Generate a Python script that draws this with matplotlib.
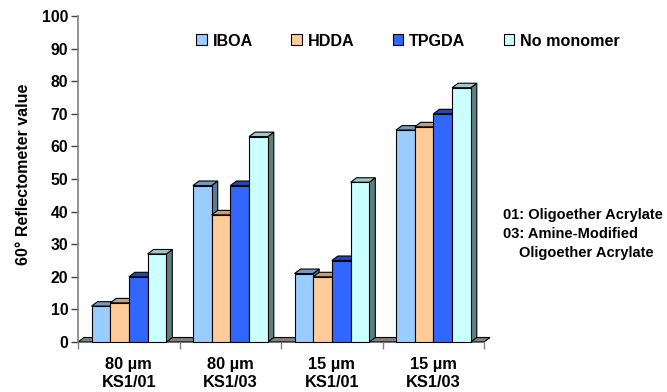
import matplotlib
matplotlib.use('Agg')
import matplotlib.pyplot as plt
from matplotlib.patches import Polygon, Patch

categories = ['80 µm\nKS1/01', '80 µm\nKS1/03', '15 µm\nKS1/01', '15 µm\nKS1/03']
series_names = ['IBOA', 'HDDA', 'TPGDA', 'No monomer']
ibo = [11, 48, 21, 65]
hdda = [12, 39, 20, 66]
tpgda = [20, 48, 25, 70]
nomono = [27, 63, 49, 78]
yticks = list(range(0, 101, 10))
note_lines = ['01: Oligoether Acrylate', '03: Amine-Modified', 'Oligoether Acrylate']

series = [ibo, hdda, tpgda, nomono]
front_colors = ['#99CCFF', '#FFCC99', '#3366FF', '#CCFFFF']
top_colors = ['#6E9ACC', '#C99E76', '#2347B8', '#9CC9C9']
side_colors = ['#5A7C99', '#997A5C', '#1F3D99', '#5F7F7F']

plt.rcParams['font.family'] = ['Liberation Sans', 'DejaVu Sans']
plt.rcParams['font.weight'] = 'bold'

W, H = 667, 392
fig = plt.figure(figsize=(W / 100, H / 100), dpi=100)
L, B, R, T = 78, 342, 484, 16
ax = fig.add_axes([L / W, (H - B) / H, (R - L) / W, (B - T) / H])
ax.set_xlim(0, 4)
ax.set_ylim(0, 100)
px_x = 4 / (R - L)
px_y = 100 / (B - T)
dx = 6 * px_x
dy = 4.5 * px_y
bw = 18.7 * px_x
start = 13.5 * px_x

# floor
ax.add_patch(Polygon([(0, 0), (4, 0), (4 + dx, dy), (dx, dy)], closed=True,
                     facecolor='#808080', edgecolor='black', lw=0.8,
                     clip_on=False, zorder=1))

z = 2
for i in range(len(categories)):
    for j, vals in enumerate(series):
        h = vals[i]
        x0 = i + start + j * bw
        side = [(x0 + bw, 0), (x0 + bw + dx, dy), (x0 + bw + dx, h + dy), (x0 + bw, h)]
        top = [(x0, h), (x0 + bw, h), (x0 + bw + dx, h + dy), (x0 + dx, h + dy)]
        front = [(x0, 0), (x0 + bw, 0), (x0 + bw, h), (x0, h)]
        ax.add_patch(Polygon(side, closed=True, facecolor=side_colors[j],
                             edgecolor='black', lw=0.8, clip_on=False, zorder=z))
        ax.add_patch(Polygon(top, closed=True, facecolor=top_colors[j],
                             edgecolor='black', lw=0.8, clip_on=False, zorder=z))
        ax.add_patch(Polygon(front, closed=True, facecolor=front_colors[j],
                             edgecolor='black', lw=0.8, clip_on=False, zorder=z))
        z += 1

for s in ['top', 'right', 'bottom']:
    ax.spines[s].set_visible(False)
ax.spines['left'].set_color('#808080')
ax.spines['left'].set_linewidth(1.2)

ax.set_yticks(yticks)
ax.set_yticklabels([str(v) for v in yticks], fontsize=11.3, fontweight='bold')
ax.tick_params(axis='y', length=5, width=1, color='#404040', pad=2)

ax.set_xticks(range(0, 5))
ax.set_xticklabels([''] * 5)
ax.set_xticks([i + 0.5 for i in range(4)], minor=True)
ax.set_xticklabels(categories, minor=True, fontsize=11.8, fontweight='bold',
                   linespacing=1.25)
ax.tick_params(axis='x', which='major', length=5, width=1, color='#808080')
ax.tick_params(axis='x', which='minor', length=0, pad=11)

fig.text(24 / W, 1 - 174 / H, '60° Reflectometer value', fontsize=11.5,
         fontweight='bold', rotation=90, ha='center', va='center')

handles = [Patch(facecolor=c, edgecolor='black', lw=0.8) for c in front_colors]
fig.legend(handles, series_names, loc='center', ncol=4, frameon=False,
           bbox_to_anchor=(408 / W, 1 - 41 / H),
           handlelength=0.65, handleheight=0.65, handletextpad=0.35,
           columnspacing=2.4, borderpad=0, prop={'weight': 'bold', 'size': 11.6})

note_x = [503, 503, 519]
note_y = [215, 234, 253]
for txt, nx, ny in zip(note_lines, note_x, note_y):
    fig.text(nx / W, 1 - ny / H, txt, fontsize=10.5, fontweight='bold',
             va='center', ha='left')

fig.savefig('out.png', dpi=100)
